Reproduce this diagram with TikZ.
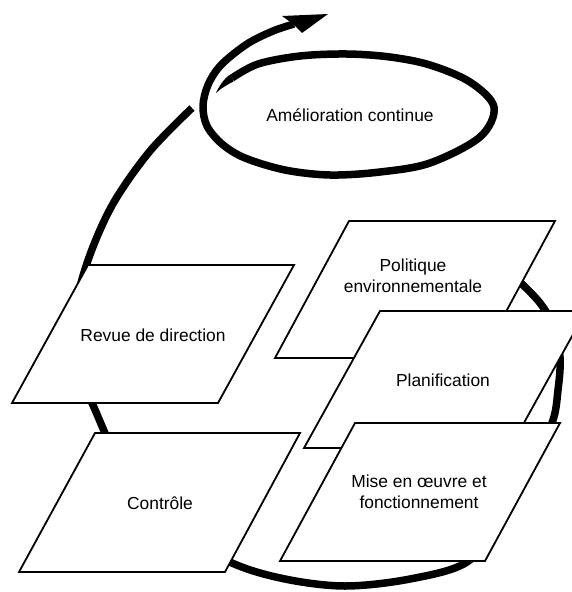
\documentclass[tikz,border=0pt]{standalone}
\usepackage{fontspec}
\setmainfont{Liberation Sans}
\begin{document}
\begin{tikzpicture}[x=1pt,y=-1pt,
  box/.style={draw=black, fill=white, line width=1.8pt, line join=miter},
  lbl/.style={font=\fontsize{17.4}{21.5}\selectfont, align=center, inner sep=0pt},
  bigstroke/.style={draw=black, line width=7.5pt, line cap=butt, line join=round}]
\fill[white] (0,0) rectangle (571,592);
\useasboundingbox (0,0) rectangle (571,592);

% large spiral arc
\draw[bigstroke] plot[smooth, tension=0.55] coordinates {
  (505,268) (522,284) (540,303) (553,325) (560,357) (558,390) (552,423)
  (528,470) (498,520) (467,562) (410,579) (345,586) (285,579) (232,563)
  (175,530) (138,492) (113,450) (96,412) (82,378) (75,340) (77,300)
  (91,252) (114,202) (150,151) (192,108)};

% loop round "Amélioration continue" ending in the arrow
\fill (216,93) .. controls (219,86) and (224.9,77.5) .. (230.2,74.7)
  -- (233.8,81.3) .. controls (228.5,84.1) and (221,88) .. cycle;
\draw[bigstroke] plot[smooth, tension=0.55] coordinates {
  (232,78) (258,64) (300,56) (347,54) (390,57) (430,65) (470,82) (494,107)
  (480,137) (430,163) (380,172) (330,175) (285,170) (245,158)
  (222,144) (207,126) (203,106) (208,85) (221,65) (247,44) (273,31) (294,24)};
\coordinate (tip) at (328,14);
\fill (tip) -- (282,16) -- (293,24) -- (302,33) -- cycle;

\node[lbl] (ame) at (350,115) {Amélioration continue};

% parallelograms
\draw[box] (88,265) -- (294,265) -- (218,403) -- (12,403) -- cycle;
\node[lbl] (rev) at (153,335) {Revue de direction};

\draw[box] (95,433) -- (300,433) -- (225,572) -- (19,572) -- cycle;
\node[lbl] (con) at (160,503) {Contrôle};

\draw[box] (349,221) -- (555,221) -- (481,358) -- (275,358) -- cycle;
\node[lbl] (pol) at (413,276) {Politique\\environnementale};

\draw[box] (380,311) -- (586,311) -- (510,448) -- (304,448) -- cycle;
\node[lbl] (pla) at (443,380) {Planification};

\draw[box] (355,423) -- (560,423) -- (485,561) -- (280,561) -- cycle;
\node[lbl] (mis) at (419,492) {Mise en œuvre et\\fonctionnement};
\end{tikzpicture}
\end{document}
